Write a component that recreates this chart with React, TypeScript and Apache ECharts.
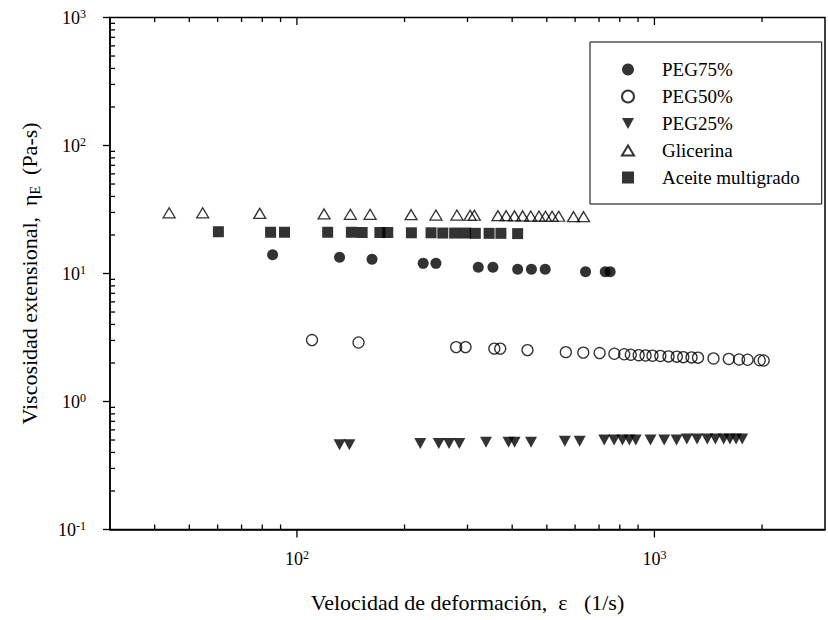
import React, { useEffect, useRef } from "react";
import * as echarts from "echarts";

const FONT = '"Liberation Serif", "Times New Roman", Times, serif';

// Axis ranges
const X_MIN = 30;
const X_MAX = 3000;
const Y_MIN = 0.1;
const Y_MAX = 1000;

// Tick labels (exponents of 10)
const xLabelExps = [2, 3];
const yLabelExps = [-1, 0, 1, 2, 3];

// Tick marks
const xMajorTicks = [100, 1000];
const xMinorTicks = [40, 50, 60, 70, 80, 90, 200, 300, 400, 500, 600, 700, 800, 900, 2000];
const yMajorTicks = [0.1, 1, 10, 100, 1000];
const yMinorTicks = [
  0.2, 0.3, 0.4, 0.5, 0.6, 0.7, 0.8, 0.9,
  2, 3, 4, 5, 6, 7, 8, 9,
  20, 30, 40, 50, 60, 70, 80, 90,
  200, 300, 400, 500, 600, 700, 800, 900,
];

// Series data
const peg75X = [85.5, 131.6, 162.2, 225.5, 244.8, 321.6, 353.4, 414.4, 452.8, 494.9, 641.7, 728.6, 751.9];
const peg75Y = [14.0, 13.4, 12.9, 12.0, 12.0, 11.2, 11.2, 10.8, 10.8, 10.8, 10.3, 10.3, 10.3];

const peg50X = [110.2, 148.7, 278.9, 296.2, 356.6, 370.4, 441.5, 565.2, 632.4, 702.6, 772.6, 823.1, 858.8, 903.6, 944.5, 987.4, 1038.7, 1095, 1155, 1204, 1270, 1324, 1463, 1614, 1725, 1822, 1970, 2021];
const peg50Y = [3.02, 2.89, 2.66, 2.66, 2.59, 2.59, 2.52, 2.43, 2.41, 2.39, 2.36, 2.34, 2.32, 2.3, 2.29, 2.28, 2.27, 2.25, 2.24, 2.22, 2.21, 2.2, 2.17, 2.15, 2.13, 2.12, 2.1, 2.09];

const peg25X = [131.6, 140.2, 221.3, 249.3, 266.4, 284.6, 338.0, 390.7, 406.3, 451.7, 561.6, 617.9, 723.9, 771.3, 813.9, 850.8, 886.6, 975, 1065, 1153, 1232, 1316, 1406, 1481, 1562, 1626, 1692, 1760];
const peg25Y = [0.46, 0.46, 0.47, 0.47, 0.47, 0.47, 0.48, 0.48, 0.48, 0.48, 0.49, 0.49, 0.5, 0.5, 0.5, 0.5, 0.5, 0.5, 0.5, 0.5, 0.51, 0.51, 0.51, 0.51, 0.51, 0.51, 0.51, 0.51];

const glicX = [43.9, 54.5, 78.7, 119.1, 141.1, 160.2, 208.6, 244.8, 280.3, 305.1, 313.5, 365.0, 384.8, 405.9, 427.8, 450.8, 475.4, 495.8, 517.3, 539.8, 593.7, 633.5];
const glicY = [29.8, 29.8, 29.5, 29.2, 29.0, 29.0, 28.8, 28.6, 28.6, 28.5, 28.5, 28.3, 28.3, 28.2, 28.2, 28.1, 28.1, 28.0, 28.0, 28.0, 27.8, 27.8];

const aceiteX = [60.3, 84.4, 92.3, 121.9, 142.0, 152.2, 170.6, 179.5, 209.0, 237.2, 255.9, 276.2, 296.2, 315.5, 344.8, 372.0, 414.4];
const aceiteY = [21.2, 21.0, 21.0, 21.0, 21.0, 20.9, 20.9, 20.9, 20.8, 20.8, 20.7, 20.7, 20.7, 20.6, 20.6, 20.6, 20.5];

const seriesNames = ["PEG75%", "PEG50%", "PEG25%", "Glicerina", "Aceite multigrado"];

const zip = (xs: number[], ys: number[]) => xs.map((x, i) => [x, ys[i]]);

const labelRich = {
  b: { fontFamily: FONT, fontSize: 18, lineHeight: 20, color: "#000" },
  s: { fontFamily: FONT, fontSize: 12, lineHeight: 12, verticalAlign: "top", color: "#000" },
};

const makeFormatter = (exps: number[]) => (v: number) => {
  const l = Math.log10(v);
  const e = Math.round(l);
  if (Math.abs(l - e) > 1e-6 || exps.indexOf(e) < 0) return "";
  return `{b|10}{s|${e}}`;
};

const black = "#000";
const DOWN_TRI = "path://M0,0 L12,0 L6,11 Z";
const UP_TRI = "path://M6,0 L12,10 L0,10 Z";

function buildOption() {
  const xTickData = [
    ...xMajorTicks.map((v) => [v, 1, 1]),
    ...xMinorTicks.map((v) => [v, 1, 0]),
  ];
  const yTickData = [
    ...yMajorTicks.map((v) => [100, v, 1]),
    ...yMinorTicks.map((v) => [100, v, 0]),
  ];

  const lineStyle = { stroke: black, lineWidth: 1.3 };

  return {
    animation: false,
    backgroundColor: "#fff",
    textStyle: { fontFamily: FONT, color: black },
    grid: {
      left: 110,
      top: 17.5,
      width: 727,
      height: 512,
      show: true,
      borderColor: black,
      borderWidth: 1.5,
      backgroundColor: "transparent",
    },
    legend: {
      orient: "vertical",
      left: 590,
      top: 42,
      data: seriesNames,
      itemWidth: 12,
      itemHeight: 12,
      itemGap: 8,
      symbolKeepAspect: true,
      padding: [18, 22, 17, 31],
      borderColor: black,
      borderWidth: 1,
      backgroundColor: "#fff",
      textStyle: { fontFamily: FONT, fontSize: 19, color: black, padding: [0, 0, 0, 23] },
      selectedMode: false,
    },
    xAxis: {
      type: "log",
      logBase: 10,
      min: X_MIN,
      max: X_MAX,
      position: "bottom",
      axisLine: { show: true, lineStyle: { color: black, width: 1.5 } },
      axisTick: { show: false },
      minorTick: { show: false },
      splitLine: { show: false },
      axisLabel: {
        margin: 19,
        formatter: makeFormatter(xLabelExps),
        rich: labelRich,
        showMinLabel: true,
        showMaxLabel: true,
      },
      name: "Velocidad de deformación,  ε   (1/s)",
      nameLocation: "middle",
      nameGap: 62,
      nameTextStyle: { fontFamily: FONT, fontSize: 22, color: black },
    },
    yAxis: {
      type: "log",
      logBase: 10,
      min: Y_MIN,
      max: Y_MAX,
      axisLine: { show: true, lineStyle: { color: black, width: 1.5 } },
      axisTick: { show: false },
      minorTick: { show: false },
      splitLine: { show: false },
      axisLabel: {
        margin: 24,
        formatter: makeFormatter(yLabelExps),
        rich: labelRich,
      },
      name: "{t|Viscosidad extensional,  η}{sub|E}{t|  (Pa-s)}",
      nameLocation: "middle",
      nameGap: 68,
      nameTextStyle: {
        rich: {
          t: { fontFamily: FONT, fontSize: 22, lineHeight: 26, color: black },
          sub: { fontFamily: FONT, fontSize: 14, lineHeight: 14, verticalAlign: "bottom", color: black },
        },
      },
    },
    series: [
      {
        name: "PEG75%",
        type: "scatter",
        data: zip(peg75X, peg75Y),
        symbol: "circle",
        symbolSize: 11,
        itemStyle: { color: black },
        z: 5,
      },
      {
        name: "PEG50%",
        type: "scatter",
        data: zip(peg50X, peg50Y),
        symbol: "circle",
        symbolSize: 11,
        itemStyle: { color: "rgba(255,255,255,0)", borderColor: black, borderWidth: 1.3 },
        z: 5,
      },
      {
        name: "PEG25%",
        type: "scatter",
        data: zip(peg25X, peg25Y),
        symbol: DOWN_TRI,
        symbolSize: [12, 11],
        itemStyle: { color: black },
        z: 5,
      },
      {
        name: "Glicerina",
        type: "scatter",
        data: zip(glicX, glicY),
        symbol: UP_TRI,
        symbolSize: [12, 10],
        itemStyle: { color: "rgba(255,255,255,0)", borderColor: black, borderWidth: 1.3 },
        z: 5,
      },
      {
        name: "Aceite multigrado",
        type: "scatter",
        data: zip(aceiteX, aceiteY),
        symbol: "rect",
        symbolSize: 11,
        itemStyle: { color: black },
        z: 5,
      },
      {
        name: "xticks",
        type: "custom",
        clip: false,
        silent: true,
        z: 10,
        data: xTickData,
        renderItem: (params: any, api: any) => {
          const v = api.value(0);
          const major = api.value(2) === 1;
          const b = api.coord([v, Y_MIN]);
          const t = api.coord([v, Y_MAX]);
          const bLen = major ? 8 : -5;
          const tLen = major ? 7.5 : 4.5;
          return {
            type: "group",
            children: [
              { type: "line", shape: { x1: b[0], y1: b[1], x2: b[0], y2: b[1] + bLen }, style: lineStyle },
              { type: "line", shape: { x1: t[0], y1: t[1], x2: t[0], y2: t[1] + tLen }, style: lineStyle },
            ],
          };
        },
      },
      {
        name: "yticks",
        type: "custom",
        clip: false,
        silent: true,
        z: 10,
        data: yTickData,
        renderItem: (params: any, api: any) => {
          const v = api.value(1);
          const major = api.value(2) === 1;
          const l = api.coord([X_MIN, v]);
          const len = major ? -7 : 5;
          return {
            type: "line",
            shape: { x1: l[0], y1: l[1], x2: l[0] + len, y2: l[1] },
            style: lineStyle,
          };
        },
      },
    ],
  };
}

export default function App() {
  const ref = useRef<HTMLDivElement>(null);
  useEffect(() => {
    if (!ref.current) return;
    const chart = echarts.init(ref.current, null, { renderer: "svg" });
    chart.setOption(buildOption() as any);
    return () => {
      chart.dispose();
    };
  }, []);
  return (
    <div
      ref={ref}
      style={{ position: "absolute", left: 0, top: 0, width: 828, height: 620, background: "#fff" }}
    />
  );
}
